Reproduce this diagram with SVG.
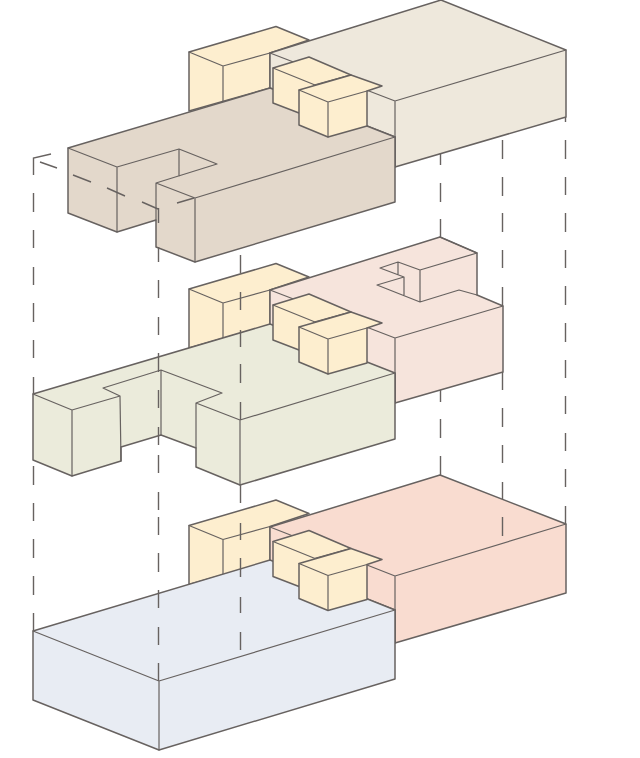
<svg xmlns="http://www.w3.org/2000/svg" width="640" height="758" viewBox="0 0 640 758">
<style>
.e{stroke:#676260;stroke-width:1.5;stroke-linejoin:round;stroke-linecap:round}
.l{fill:none;stroke-width:1.2}
.y{fill:#fdeecf}
.d{fill:none;stroke:#676260;stroke-width:1.4}
</style>
<defs>
<g id="tall">
<path class="e y" d="M189 52L276 26.500L309 40L270 53L270 88L189 111Z"/>
<path class="e l" d="M189 52L223 66L270 53M223 66V101"/>
</g>
<g id="small">
<path class="e y" d="M273 68L309 57L351 75L315 85L299 113L273 103Z"/>
<path class="e l" d="M273 68L315 85"/>
<path class="e y" d="M299 90L351 75L382 86L367 91V126L328 137L299 125Z"/>
<path class="e l" d="M299 90L328 102L367 91M328 102V137"/>
</g>
</defs>
<g id="upper-yellow-block"><use href="#tall"/></g>
<g id="upper-rear-volume">
<path class="e" fill="#eee8dc" d="M270 53L441 0L566 50V117L395 167V137L270 88Z"/>
<path class="e l" d="M270 53L395 101L566 50M395 101V167"/>
</g>
<g id="upper-slab">
<path class="e" fill="#e3d8cb" d="M68 148L270 88L395 137V202L195 262L156 247V220L117 232L68 213Z"/>
<path class="e l" d="M68 148L117 167V232M117 167L179 149L217 164L156 183V220M179 149V176M156 183L195 198V262M195 198L395 137"/>
</g>
<g id="upper-small-blocks"><use href="#small"/></g>

<g id="middle-yellow-block"><use href="#tall" y="237"/></g>
<g id="middle-rear-volume">
<path class="e" fill="#f6e4dc" d="M270 290L440 237L477 253V295L503 306V372L395 403V374L270 325Z"/>
<path class="e l" d="M270 290L395 338L503 306M395 338V403M440 237L477 253L420 270L398 262L380 268L404 277L377 285L420 302L459 290L477 295M420 270V302M398 262V274M404 277V295"/>
</g>
<g id="middle-slab">
<path class="e" fill="#ebebdb" d="M33 394L270 324L395 373V439L240 485L196 467V448L161 435L121 447V461L72 476L33 460Z"/>
<path class="e l" d="M33 394L72 410V476M72 410L120 396L121 461M120 396L103 388L161 370L222 393L196 403L240 420L395 373M161 370V435M196 403V448M240 420V485"/>
</g>
<g id="middle-small-blocks"><use href="#small" y="237"/></g>

<g id="lower-yellow-block"><use href="#tall" y="473.500"/></g>
<g id="lower-rear-volume">
<path class="e" fill="#f9dcd0" d="M270 527L440 475L566 524V593L395 643V610L270 561Z"/>
<path class="e l" d="M270 527L395 576L566 524M395 576V643"/>
</g>
<g id="lower-slab">
<path class="e" fill="#e8ecf3" d="M33 631L270 560L395 610V679L159 750L33 700Z"/>
<path class="e l" d="M33 631L159 681V750M159 681L395 610"/>
</g>
<g id="lower-small-blocks"><use href="#small" y="473.500"/></g>

<g id="connectors">
<path class="d" d="M33.500 175V158L51 154M40 162L57 168M73 175L91 182M107 188L125 196M142 202L158 209M177 203L194 198"/>
<path class="d" d="M33.500 193V212M33.500 230V248M33.500 267V285M33.500 303V322M33.500 340V358M33.500 377V394M33.500 466V485M33.500 503V521M33.500 539V558M33.500 576V595M33.500 613V631"/>
<path class="d" d="M158.500 208V223M158.500 247V262M158.500 280V298M158.500 317V335M158.500 353V372M158.500 390V408M158.500 427V445M158.500 455V473M158.500 492V510M158.500 517V535M158.500 553V572M158.500 590V608M158.500 627V645M158.500 663V681"/>
<path class="d" d="M240.500 255V273M240.500 292V310M240.500 330V347M240.500 364V383M240.500 402V420M240.500 485V503M240.500 523V540M240.500 558V577M240.500 597V613M240.500 632V650"/>
<path class="d" d="M440.500 153V165M440.500 183V202M440.500 219V237M440.500 390V402M440.500 419V438M440.500 456V475"/>
<path class="d" d="M502.500 140V159M502.500 177V196M502.500 213V232M502.500 250V268M502.500 287V305M502.500 372V390M502.500 408V427M502.500 445V463M502.500 482V499M502.500 517V536"/>
<path class="d" d="M565.500 117V122M565.500 140V159M565.500 177V195M565.500 213V232M565.500 250V268M565.500 286V305M565.500 323V342M565.500 360V378M565.500 396V414M565.500 433V451M565.500 469V487M565.500 506V523"/>
</g>
</svg>
